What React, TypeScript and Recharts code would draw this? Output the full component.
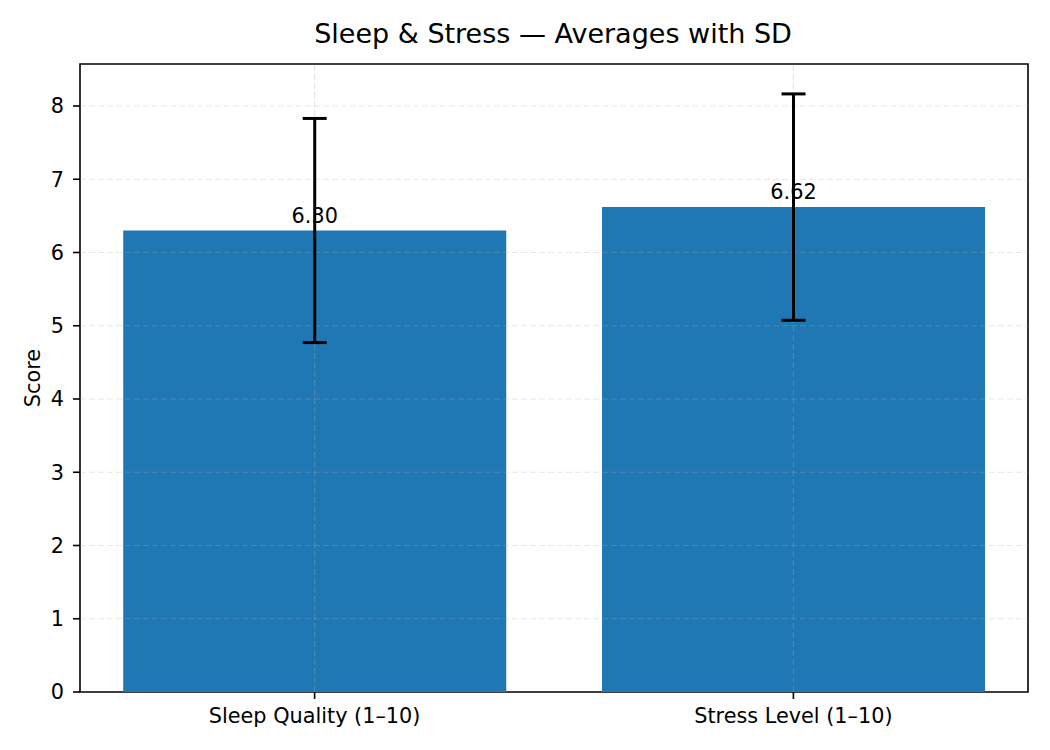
import React from 'react';
import {
  BarChart,
  Bar,
  XAxis,
  YAxis,
  ErrorBar,
  LabelList,
  ReferenceLine,
  ReferenceArea,
  Label,
} from 'recharts';

const categories = ['Sleep Quality (1–10)', 'Stress Level (1–10)'];
const means = [6.3, 6.62];
const sds = [1.53, 1.545];
const yTicks = [0, 1, 2, 3, 4, 5, 6, 7, 8];
const xTicks = [0, 1];

const data = categories.map((name, i) => ({ idx: i, name, mean: means[i], sd: sds[i] }));

const FONT = '"DejaVu Sans", sans-serif';
const W = 1050;
const H = 750;
const margin = { top: 64, right: 22, bottom: 0, left: 0 };
const yAxisWidth = 80;
const xAxisHeight = 58;
const plotWidth = W - margin.left - margin.right - yAxisWidth;

const xMin = -0.49;
const xMax = 1.49;
const yMax = Math.max(...means.map((m, i) => m + sds[i])) * 1.05;
const barSize = (0.8 * plotWidth) / (xMax - xMin);

export default function App() {
  const z: any = {};
  return (
    <div style={{ position: 'absolute', left: 0, top: 0, width: W, height: H, background: '#fff' }}>
      <BarChart width={W} height={H} data={data} margin={margin} style={{ fontFamily: FONT }}>
        <XAxis
          type="number"
          dataKey="idx"
          domain={[xMin, xMax]}
          ticks={xTicks}
          interval={0}
          allowDataOverflow
          tickFormatter={(v: number) => categories[v]}
          height={xAxisHeight}
          axisLine={false}
          tickSize={7}
          tickMargin={9}
          tickLine={{ stroke: '#000', strokeWidth: 1.6 }}
          tick={{ fill: '#000', fontSize: 20.8, fontFamily: FONT }}
        />
        <YAxis
          type="number"
          domain={[0, yMax]}
          ticks={yTicks}
          interval={0}
          allowDataOverflow
          width={yAxisWidth}
          axisLine={false}
          tickSize={7}
          tickMargin={9}
          tickLine={{ stroke: '#000', strokeWidth: 1.6 }}
          tick={{ fill: '#000', fontSize: 20.8, fontFamily: FONT }}
        >
          <Label
            value="Score"
            angle={-90}
            position="center"
            dx={-7}
            style={{ fill: '#000', fontSize: 20.8, fontFamily: FONT }}
          />
        </YAxis>
        <Bar dataKey="mean" fill="#1f77b4" barSize={barSize} isAnimationActive={false}>
          <LabelList
            dataKey="mean"
            position="top"
            offset={8}
            formatter={(v: number) => Number(v).toFixed(2)}
            style={{ fill: '#000', fontSize: 20.8, fontFamily: FONT }}
          />
          <ErrorBar
            dataKey="sd"
            direction="y"
            width={12}
            stroke="#000"
            strokeWidth={3}
            isAnimationActive={false}
            {...{ zIndex: 2500 }}
          />
        </Bar>
        {yTicks.slice(1).map((t) => (
          <ReferenceLine
            key={`gy${t}`}
            y={t}
            stroke="#b0b0b0"
            strokeOpacity={0.3}
            strokeDasharray="6 3"
            strokeWidth={1.2}
            {...{ zIndex: 350 }}
          />
        ))}
        {xTicks.map((t) => (
          <ReferenceLine
            key={`gx${t}`}
            x={t}
            stroke="#b0b0b0"
            strokeOpacity={0.3}
            strokeDasharray="6 3"
            strokeWidth={1.2}
            {...{ zIndex: 350 }}
          />
        ))}
        <ReferenceArea
          x1={xMin}
          x2={xMax}
          y1={0}
          y2={yMax}
          fill="none"
          fillOpacity={0}
          stroke="#000"
          strokeWidth={1.6}
          ifOverflow="visible"
        />
      </BarChart>
      <svg
        width={W}
        height={H}
        style={{ position: 'absolute', left: 0, top: 0, pointerEvents: 'none' }}
      >
        <text x={553} y={43} textAnchor="middle" fontSize={27} fontFamily={FONT} fill="#000">
          Sleep &amp; Stress — Averages with SD
        </text>
      </svg>
    </div>
  );
}
